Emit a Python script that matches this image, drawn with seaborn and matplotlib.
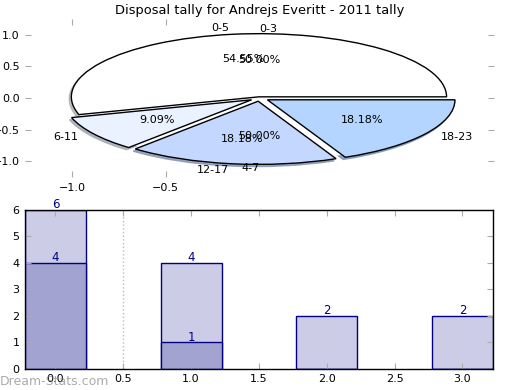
import matplotlib
matplotlib.use("Agg")
import matplotlib.pyplot as plt
import numpy as np
import pandas as pd
import seaborn as sns

# pie: disposals by time bucket
pie_labels = ["0-5", "6-11", "12-17", "18-23"]
pie_counts = [6, 1, 2, 2]
pie_colors = ["#ffffff", "#eaf1ff", "#c4d8ff", "#b3d5ff"]
pie_explode = [0.02, 0.05, 0.05, 0.05]

# second (hidden) pie
pie2_labels = ["0-3", "4-7"]
pie2_counts = [1, 1]

# bars
bar_x = [0, 1, 2, 3]
bar_total = [6, 4, 2, 2]
bar_part = [4, 1, 0, 0]

TITLE = "Disposal tally for Andrejs Everitt - 2011 tally"
NAVY = "#000080"
TICK_GRAY = "#aaaaaa"

plt.rcParams["font.family"] = ["DejaVu Sans"]

fig = plt.figure(figsize=(5.2, 3.9), dpi=100)
ax1 = fig.add_axes([0.048, 0.546, 0.902, 0.405])
ax2 = fig.add_axes([0.048, 0.054, 0.900, 0.408])

# --- pie ---
_, t2, _ = ax1.pie(pie2_counts, labels=pie2_labels,
                   colors=["#ffffff", "#ffffff"], autopct="%.2f%%",
                   wedgeprops=dict(linewidth=0), textprops=dict(fontsize=8))
t2[0].set_ha("left")
t2[1].set_ha("right")
ax1.pie(pie_counts, labels=pie_labels, colors=pie_colors, explode=pie_explode,
        autopct="%.2f%%",
        shadow=dict(ox=-0.008, oy=-0.025, shade=0.3, alpha=0.85),
        wedgeprops=dict(edgecolor="black", linewidth=1),
        textprops=dict(fontsize=8))
ax1.set_aspect("auto")
ax1.set_xlim(-1.25, 1.25)
ax1.set_ylim(-1.25, 1.25)
ax1.set_xticks([-1.0, -0.5])
ax1.set_xticklabels(["\u22121.0", "\u22120.5"])
ax1.set_yticks([-1.0, -0.5, 0.0, 0.5, 1.0])
ax1.set_yticklabels(["\u22121.0", "\u22120.5", "0.0", "0.5", "1.0"])
ax1.tick_params(direction="in", length=4, color=TICK_GRAY, labelsize=8,
                top=True, right=True, pad=4)
ax1.set_title(TITLE, fontsize=9.4, pad=4)

# --- stacked bars ---
df_tot = pd.DataFrame({"x": bar_x, "v": bar_total})
df_part = pd.DataFrame({"x": bar_x, "v": bar_part})
sns.barplot(data=df_tot, x="x", y="v", native_scale=True, width=0.45,
            color="#ccccE6", saturation=1, edgecolor=NAVY, linewidth=1,
            errorbar=None, ax=ax2)
sns.barplot(data=df_part, x="x", y="v", native_scale=True, width=0.45,
            color="#a3a3d2", saturation=1, edgecolor=NAVY, linewidth=1,
            errorbar=None, ax=ax2)
for cont, vals in zip(ax2.containers, [bar_total, bar_part]):
    ax2.bar_label(cont, labels=[str(v) if v else "" for v in vals],
                  color=NAVY, fontsize=8.5, padding=-1)

ax2.axvline(0.5, color="#bbbbbb", linestyle=":", linewidth=1, zorder=0)
ax2.set_xlim(-0.225, 3.225)
ax2.set_ylim(0, 6)
ax2.set_xticks(np.arange(0, 3.01, 0.5))
ax2.set_xticklabels([f"{t:.1f}" for t in np.arange(0, 3.01, 0.5)])
ax2.set_yticks(range(0, 7))
ax2.set_xlabel("")
ax2.set_ylabel("")
ax2.tick_params(direction="in", length=4, color=TICK_GRAY, labelsize=8,
                top=True, right=True, pad=4)
for sp in ax2.spines.values():
    sp.set_color("black")
    sp.set_linewidth(1)

fig.text(0.0, 0.012, "Dream-Stats.com", color="#888888", alpha=0.7,
         fontsize=9)

fig.savefig("out.png", dpi=100)
